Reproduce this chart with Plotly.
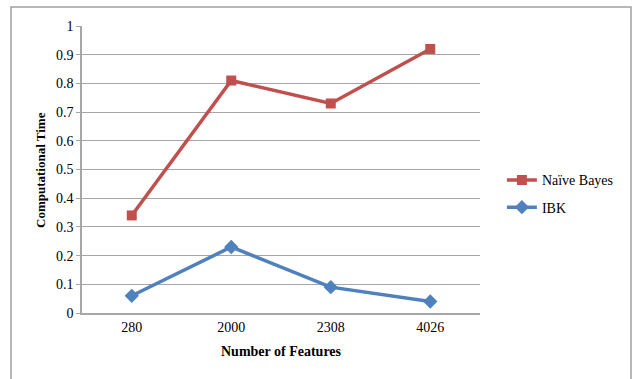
import plotly.graph_objects as go

# Chart data
features = ["280", "2000", "2308", "4026"]
naive_bayes = [0.34, 0.81, 0.73, 0.92]
ibk = [0.06, 0.23, 0.09, 0.04]
y_ticks = [0, 0.1, 0.2, 0.3, 0.4, 0.5, 0.6, 0.7, 0.8, 0.9, 1]
y_tick_text = ["0", "0.1", "0.2", "0.3", "0.4", "0.5", "0.6", "0.7", "0.8", "0.9", "1"]

RED = "#C0504D"
BLUE = "#4F81BD"
GRID = "#A6A6A6"
FONT = "'Liberation Serif', 'Times New Roman', serif"

fig = go.Figure()
fig.add_trace(go.Scatter(
    x=features, y=naive_bayes, name="Naïve Bayes", mode="lines+markers",
    legendgroup="nb",
    line=dict(color=RED, width=3.5),
    marker=dict(symbol="square", size=10, color=RED),
))
fig.add_trace(go.Scatter(
    x=features, y=ibk, name="IBK", mode="lines+markers",
    legendgroup="ibk",
    line=dict(color=BLUE, width=3.5),
    marker=dict(symbol="diamond", size=11, color=BLUE),
))

fig.update_layout(
    width=638, height=379,
    margin=dict(l=82, r=158, t=26, b=66),
    paper_bgcolor="white", plot_bgcolor="white",
    font=dict(family=FONT, size=14, color="#000000"),
    showlegend=True,
    legend=dict(
        x=1.055, y=0.415, xanchor="left", yanchor="middle",
        font=dict(family=FONT, size=14, color="#000000"),
        bgcolor="rgba(0,0,0,0)", itemwidth=30, tracegroupgap=6,
    ),
    xaxis=dict(
        type="category", range=[-0.5, 3.5],
        showgrid=False, showline=True, linecolor=GRID, linewidth=1.5,
        ticks="", tickfont=dict(family=FONT, size=14),
        fixedrange=True,
    ),
    yaxis=dict(
        range=[0, 1], tickvals=y_ticks, ticktext=y_tick_text,
        showgrid=True, gridcolor=GRID, gridwidth=1.2,
        showline=True, linecolor=GRID, linewidth=1.5,
        ticks="outside", ticklen=4, tickcolor=GRID,
        tickfont=dict(family=FONT, size=14),
        zeroline=False, fixedrange=True,
    ),
    shapes=[
        dict(type="rect", xref="paper", yref="paper",
             x0=-0.1784, x1=1.3794, y0=-0.26, y1=1.0662,
             line=dict(color="#A0A0A0", width=1.5), fillcolor="rgba(0,0,0,0)",
             layer="below"),
    ],
    annotations=[
        dict(text="<b>Number of Features</b>", xref="paper", yref="paper",
             x=0.5, y=(313 - 351) / 287, xanchor="center", yanchor="middle",
             showarrow=False, font=dict(family=FONT, size=14)),
        dict(text="<b>Computational Time</b>", xref="paper", yref="paper",
             x=(40 - 82) / 398, y=(313 - 170) / 287, xanchor="center", yanchor="middle",
             textangle=-90, showarrow=False, font=dict(family=FONT, size=13)),
    ],
)

fig.write_html("out.html")
